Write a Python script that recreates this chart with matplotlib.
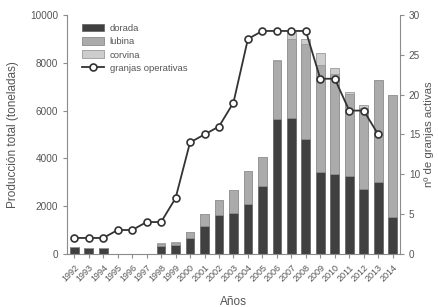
import numpy as np
import matplotlib.pyplot as plt

plt.rcParams['font.family'] = ['Liberation Sans', 'DejaVu Sans']

years = list(range(1992, 2015))
dorada = [300, 250, 250, 0, 0, 0, 350, 380, 680, 1180, 1640, 1700, 2080, 2860,
          5630, 5670, 4790, 3440, 3330, 3260, 2720, 3000, 1560]
lubina = [0, 0, 0, 0, 0, 0, 70, 90, 220, 490, 620, 980, 1390, 1210,
          2430, 3340, 4010, 4460, 4220, 3430, 3380, 4270, 5100]
corvina = [0, 0, 0, 0, 0, 0, 30, 30, 0, 0, 0, 0, 0, 0,
           50, 280, 210, 490, 240, 100, 130, 0, 0]
granjas = [2, 2, 2, 3, 3, 4, 4, 7, 14, 15, 16, 19, 27, 28,
           28, 28, 28, 22, 22, 18, 18, 15, np.nan]

grey_txt = '#555555'
grey_ax = '#8c8c8c'

fig = plt.figure(figsize=(4.38, 3.07), dpi=100)
ax = fig.add_axes([0.153, 0.173, 0.76, 0.778])
x = np.arange(len(years))
d = np.array(dorada)
l = np.array(lubina)
c = np.array(corvina)
w = 0.6
ax.bar(x, d, w, color='#404040', edgecolor='#6a6a6a', linewidth=0.6, label='dorada')
ax.bar(x, l, w, bottom=d, color='#ababab', edgecolor='#8a8a8a', linewidth=0.6, label='lubina')
ax.bar(x, c, w, bottom=d + l, color='#cdcdcd', edgecolor='#9a9a9a', linewidth=0.6, label='corvina')

ax.set_xlim(-0.5, len(years) - 0.5)
ax.set_ylim(0, 10000)
ax.set_yticks(range(0, 10001, 2000))
ax.set_xticks(x)
ax.set_xticklabels(years, rotation=45, ha='right', rotation_mode='anchor', fontsize=6.5, color=grey_txt)
ax.tick_params(axis='y', labelsize=7.2, labelcolor=grey_txt, color=grey_ax, length=3)
ax.tick_params(axis='x', color=grey_ax, length=3)
ax.set_ylabel('Producción total (toneladas)', fontsize=8.5, color=grey_txt, labelpad=8)
ax.set_xlabel('Años', fontsize=8.5, color=grey_txt, labelpad=9)
for s in ['top', 'right']:
    ax.spines[s].set_visible(False)
for s in ['left', 'bottom']:
    ax.spines[s].set_color(grey_ax)

ax2 = ax.twinx()
ax2.plot(x, granjas, color='#333333', linewidth=1.3, marker='o', markersize=5,
         markerfacecolor='white', markeredgecolor='#333333', markeredgewidth=1.2,
         label='granjas operativas')
ax2.set_ylim(0, 30)
ax2.set_yticks(range(0, 31, 5))
ax2.tick_params(axis='y', labelsize=7.2, labelcolor=grey_txt, color=grey_ax, length=3)
ax2.set_ylabel('nº de granjas activas', fontsize=8.2, color=grey_txt, labelpad=3)
for s in ['top', 'left', 'bottom']:
    ax2.spines[s].set_visible(False)
ax2.spines['right'].set_color(grey_ax)

h1, l1 = ax.get_legend_handles_labels()
h2, l2 = ax2.get_legend_handles_labels()
leg = ax2.legend(h1 + h2, l1 + l2, loc='upper left', bbox_to_anchor=(0.02, 1.0),
                 frameon=False, fontsize=6.8, handlelength=2.3, handleheight=0.9,
                 labelspacing=0.45, handletextpad=0.6)
for t in leg.get_texts():
    t.set_color(grey_txt)

fig.savefig('out.png', dpi=100)
